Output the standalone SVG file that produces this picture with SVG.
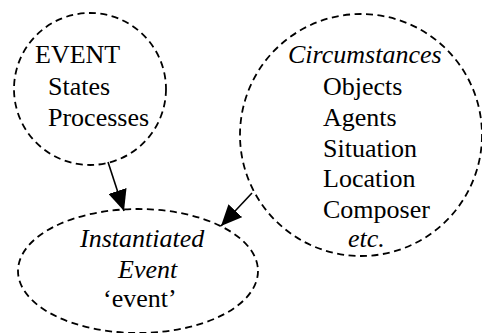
<svg xmlns="http://www.w3.org/2000/svg" width="482" height="333" viewBox="0 0 482 333">
<style>
.node{fill:none;stroke:#000;stroke-width:1.8;stroke-dasharray:7 4.5}
text{font-family:'Liberation Serif','Times New Roman',serif;font-size:26px;fill:#000}
.it{font-style:italic}
.conn{stroke:#000;stroke-width:1.6;fill:none}
</style>
<defs>
<marker id="ah" viewBox="0 0 21 19" refX="21" refY="9.5" markerWidth="21" markerHeight="19" markerUnits="userSpaceOnUse" orient="auto">
<path d="M0,0 L21,9.5 L0,19 z" fill="#000"/>
</marker>
</defs>
<rect width="482" height="333" fill="#fff"/>
<g id="event">
<circle class="node" cx="90" cy="89" r="76"/>
<text x="35" y="63">EVENT</text>
<text x="48" y="95">States</text>
<text x="48" y="126">Processes</text>
</g>
<g id="circumstances">
<circle class="node" cx="361" cy="135" r="121"/>
<text class="it" x="288" y="63">Circumstances</text>
<text x="323" y="95">Objects</text>
<text x="323" y="126">Agents</text>
<text x="323" y="157">Situation</text>
<text x="323" y="187">Location</text>
<text x="323" y="218">Composer</text>
<text class="it" x="348" y="247">etc.</text>
</g>
<g id="instantiated">
<ellipse class="node" cx="138" cy="271" rx="120" ry="62"/>
<text class="it" x="80" y="247">Instantiated</text>
<text class="it" x="118" y="278">Event</text>
<text x="103" y="307">‘event’</text>
</g>
<g id="connectors">
<line class="conn" x1="108" y1="162" x2="124" y2="211" marker-end="url(#ah)"/>
<line class="conn" x1="252" y1="193" x2="221" y2="226" marker-end="url(#ah)"/>
</g>
</svg>
